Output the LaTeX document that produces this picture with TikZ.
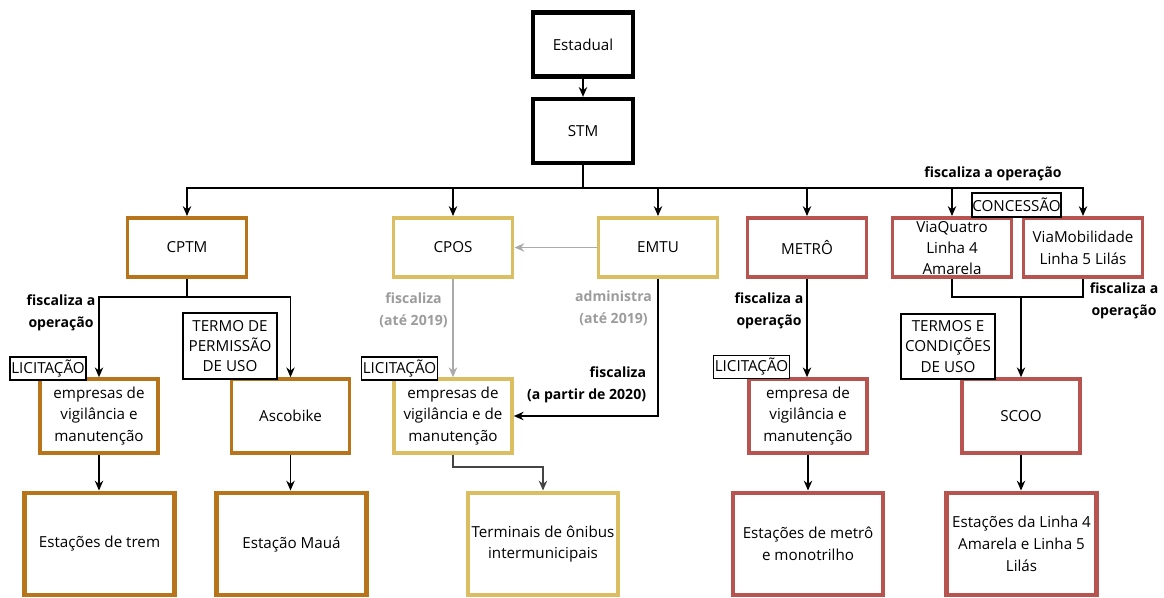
\documentclass[tikz,border=0pt]{standalone}
\usepackage{fontspec}
\setmainfont{Open Sans}
\usetikzlibrary{arrows.meta}
\definecolor{cbrown}{HTML}{B8741A}
\definecolor{ctan}{HTML}{DBBD62}
\definecolor{cred}{HTML}{B85450}
\definecolor{cgline}{HTML}{AAAAAA}
\definecolor{cgtext}{HTML}{9C9C9C}
\definecolor{cdline}{HTML}{444444}
\begin{document}
\begin{tikzpicture}[x=0.025cm,y=-0.025cm,
  box/.style={draw, fill=white, align=center, inner sep=1pt, font=\fontsize{10.8}{15.6}\selectfont},
  rtwo/.style={box, line width=2.8pt, minimum width=2.975cm, minimum height=1.475cm},
  rthree/.style={box, line width=2.5pt, minimum width=2.95cm, minimum height=1.85cm},
  rfour/.style={box, line width=3.5pt, minimum width=3.75cm, minimum height=2.55cm},
  topbox/.style={box, draw=black, line width=3pt, minimum width=2.5cm, minimum height=1.6cm},
  tag/.style={draw, line width=0.8pt, fill=white, inner sep=0pt, align=center, font=\fontsize{10.8}{14.5}\selectfont},
  lbl/.style={font=\bfseries\fontsize{10}{15.6}\selectfont, align=center},
  glbl/.style={lbl, text=cgtext},
  plain/.style={line width=1pt, draw=black},
  conn/.style={line width=1pt, draw=black, -{Stealth[length=7pt,width=6pt]}},
  gconn/.style={line width=1pt, draw=cgline, -{Stealth[length=7pt,width=6pt]}},
  dconn/.style={line width=1.3pt, draw=cdline, -{Stealth[length=7pt,width=6pt]}}
]
\useasboundingbox[fill=white] (0,0) rectangle (1164,598);

% top
\node[topbox] (est) at (583,44.5) {Estadual};
\node[topbox] (stm) at (583,131) {STM};

% row 2
\node[rtwo, draw=cbrown] (cptm) at (187,247.5) {CPTM};
\node[rtwo, draw=ctan] (cpos) at (453,247.5) {CPOS};
\node[rtwo, draw=ctan] (emtu) at (658,247.5) {EMTU};
\node[rtwo, draw=cred] (metro) at (807,247.5) {METRÔ};
\node[rtwo, draw=cred] (vq) at (952,247.5) {};
\node[box, draw=none, fill=none] (vqt) at (952,248) {ViaQuatro\\[-1pt]Linha 4\\[-1pt]Amarela};
\node[rtwo, draw=cred] (vm) at (1083,247.5) {ViaMobilidade\\Linha 5 Lilás};

% row 3
\node[rthree, draw=cbrown] (emp1) at (99,416) {empresas de\\vigilância e\\manutenção};
\node[rthree, draw=cbrown] (asc) at (290.5,416) {Ascobike};
\node[rthree, draw=ctan] (emp2) at (453,416) {empresas de\\vigilância e de\\manutenção};
\node[rthree, draw=cred] (emp3) at (808,416) {empresa de\\vigilância e\\manutenção};
\node[rthree, draw=cred] (scoo) at (1021,416) {SCOO};

% row 4
\node[rfour, draw=cbrown] (trem) at (99.5,544) {Estações de trem};
\node[rfour, draw=cbrown] (maua) at (291.5,544) {Estação Mauá};
\node[rfour, draw=ctan] (term) at (543,544) {Terminais de ônibus\\intermunicipais};
\node[rfour, draw=cred] (emet) at (808,544) {Estações de metrô\\e monotrilho};
\node[rfour, draw=cred] (elin) at (1021.5,544) {Estações da Linha 4\\Amarela e Linha 5\\Lilás};

% connectors
\draw[conn] (est) -- (stm);
\coordinate (bus) at (583,188);
\draw[line width=1.5pt] (stm.south) -- (bus);
\draw[conn] (bus) -| (cptm.north);
\draw[conn] (bus) -| (cpos.north);
\draw[conn] (bus) -| (emtu.north);
\draw[conn] (bus) -| (metro.north);
\draw[conn] (bus) -| (vq.north);
\draw[conn] (bus) -| (vm.north);

\draw[gconn] (emtu.west) -- (cpos.east);

\coordinate (cb) at (187,297);
\draw[plain] (cptm.south) -- (cb);
\draw[conn] (cb) -| (emp1.north);
\draw[conn] (cb) -| (asc.north);

\draw[gconn] (cpos.south) -- (emp2.north);
\draw[conn] (emtu.south) |- (emp2.east);
\draw[conn] (metro.south) -- (metro.south |- emp3.north);

\coordinate (vj) at (1021,297);
\draw[plain] (vq.south) |- (vj) -| (vm.south);
\draw[conn] (vj) -- (scoo.north);

\draw[conn] (emp1.south) -- (emp1.south |- trem.north);
\draw[conn] (asc.south) -- (asc.south |- maua.north);
\coordinate (tj) at (453,467);
\draw[dconn] (emp2.south) -- (tj) -| (term.north);
\draw[conn] (emp3.south) -- (emp3.south |- emet.north);
\draw[conn] (scoo.south) -- (scoo.south |- elin.north);

% tags
\node[tag, minimum width=1.9cm, minimum height=0.575cm] (lic1) at (48,368.5) {LICITAÇÃO};
\node[tag, minimum width=1.9cm, minimum height=0.575cm] (lic2) at (399.5,368.5) {LICITAÇÃO};
\node[tag, minimum width=1.9cm, minimum height=0.575cm] (lic3) at (751.5,367) {LICITAÇÃO};
\node[tag, minimum width=2.35cm, minimum height=1.65cm] (tpu) at (230,346) {TERMO DE\\PERMISSÃO\\DE USO};
\node[tag, minimum width=2.35cm, minimum height=1.625cm] (tcu) at (948,346.5) {TERMOS E\\CONDIÇÕES\\DE USO};
\node[tag, minimum width=2.225cm, minimum height=0.6cm] (conc) at (1016.5,205) {CONCESSÃO};

% labels
\node[lbl] (l1) at (993,174) {fiscaliza a operação};
\node[lbl] (l2) at (61,312.5) {fiscaliza a\\operação};
\node[lbl] (l3) at (769,311) {fiscaliza a\\operação};
\node[lbl] (l4) at (1124,301) {fiscaliza a\\operação};
\node[glbl] (l5) at (413.5,310) {fiscaliza\\(até 2019)};
\node[glbl] (l6) at (613.5,308.5) {administra\\(até 2019)};
\node[lbl, align=right, anchor=east] (l7) at (651,385) {fiscaliza\\(a partir de 2020)};
\end{tikzpicture}
\end{document}
